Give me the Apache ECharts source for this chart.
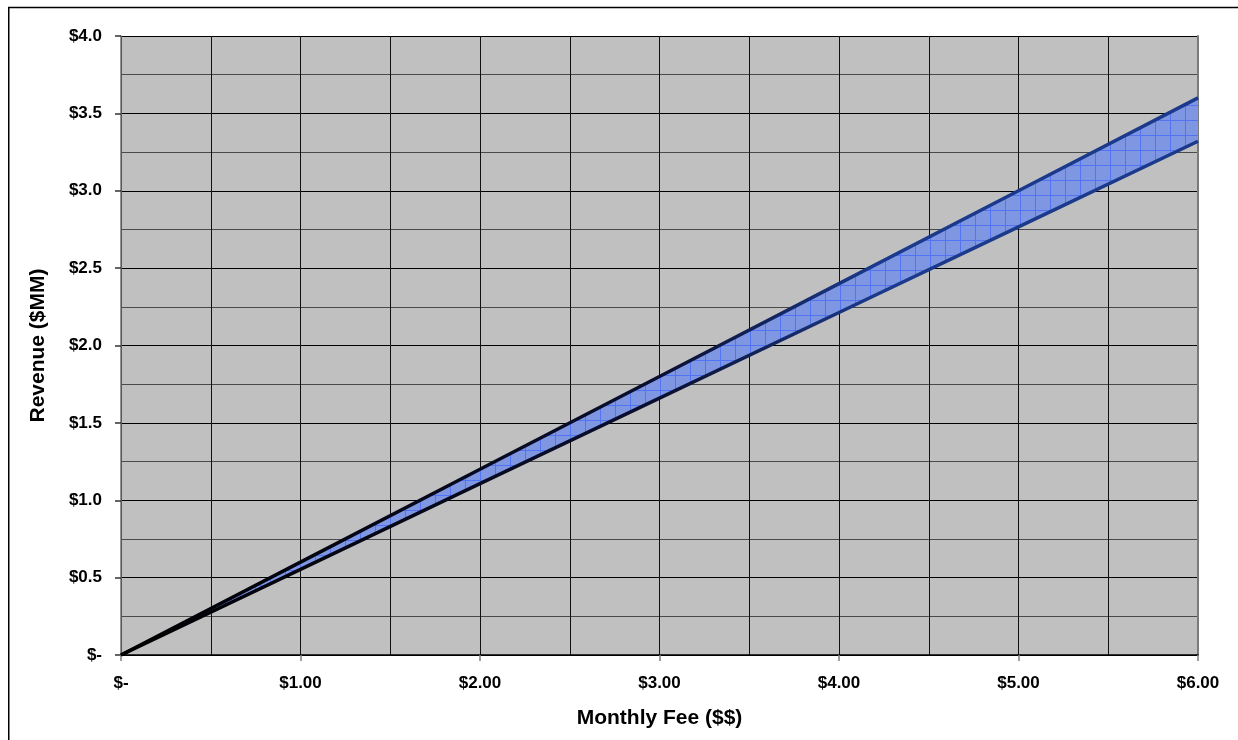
<!DOCTYPE html>
<html>
<head>
<meta charset="utf-8">
<title>Revenue vs Monthly Fee</title>
<script src="https://cdn.jsdelivr.net/npm/echarts@6/dist/echarts.min.js"></script>
<style>
  html, body { margin: 0; padding: 0; background: #ffffff; }
  #chart { width: 1238px; height: 740px; }
</style>
</head>
<body>
<div id="chart"></div>
<script>
// Monthly fee ($) and revenue range ($MM) at each fee level
const fees = [0, 1, 2, 3, 4, 5, 6];
const revenueLow = [0, 0.553, 1.107, 1.66, 2.213, 2.767, 3.32];
const revenueHigh = [0, 0.6, 1.2, 1.8, 2.4, 3.0, 3.6];

const xTitle = 'Monthly Fee ($$)';
const yTitle = 'Revenue ($MM)';

// Cross-hatched blue fill for the band between low and high
function hatchPattern() {
  const c = document.createElement('canvas');
  c.width = 15; c.height = 15;
  const g = c.getContext('2d');
  g.fillStyle = '#7f97e2';
  g.fillRect(0, 0, 15, 15);
  g.strokeStyle = '#5273f2';
  g.lineWidth = 1;
  g.beginPath();
  g.moveTo(0.5, 0); g.lineTo(0.5, 15);
  g.moveTo(0, 0.5); g.lineTo(15, 0.5);
  g.stroke();
  return c;
}
const hatch = hatchPattern();

const lowPts = fees.map((f, i) => [f, revenueLow[i]]);
const highPts = fees.map((f, i) => [f, revenueHigh[i]]);

// Band polygon: along the high edge, then back along the low edge
function renderBand(params, api) {
  if (params.dataIndex !== 0) return null;
  const pts = [];
  for (let i = 0; i < fees.length; i++) pts.push(api.coord([fees[i], revenueHigh[i]]));
  for (let i = fees.length - 1; i >= 0; i--) pts.push(api.coord([fees[i], revenueLow[i]]));
  return {
    type: 'polygon',
    shape: { points: pts },
    style: { fill: { image: hatch, repeat: 'repeat' }, stroke: 'none' }
  };
}

const edgeColor = {
  type: 'linear', x: 0, y: 0, x2: 1, y2: 0,
  colorStops: [
    { offset: 0, color: '#000000' },
    { offset: 0.5, color: '#0a0f30' },
    { offset: 0.7, color: '#1b3a8c' },
    { offset: 1, color: '#1b3a8c' }
  ]
};

const labelFont = { fontFamily: 'Liberation Sans, Arial, sans-serif', fontWeight: 'bold', color: '#000' };

const chart = echarts.init(document.getElementById('chart'), null, { renderer: 'canvas' });
chart.setOption({
  animation: false,
  backgroundColor: '#ffffff',
  graphic: [{
    type: 'rect',
    shape: { x: 8.75, y: 7.5, width: 1300, height: 800 },
    style: { fill: 'none', stroke: '#000', lineWidth: 1.5 },
    silent: true
  }],
  grid: {
    left: 121, right: 40, top: 36, bottom: 85,
    show: true, backgroundColor: '#c0c0c0', borderWidth: 0
  },
  xAxis: {
    type: 'value', min: 0, max: 6, interval: 1,
    name: xTitle, nameLocation: 'middle', nameGap: 53,
    nameTextStyle: Object.assign({ fontSize: 21 }, labelFont),
    axisLine: { show: true, lineStyle: { color: '#000', width: 1.5 } },
    axisTick: { show: true, length: 6, lineStyle: { color: '#808080', width: 1.5 } },
    axisLabel: Object.assign({
      fontSize: 17, margin: 20,
      formatter: v => v === 0 ? '$-' : '$' + v.toFixed(2)
    }, labelFont),
    splitLine: { show: true, lineStyle: { color: '#111', width: 1 } },
    minorTick: { show: false, splitNumber: 2 },
    minorSplitLine: { show: true, lineStyle: { color: '#111', width: 1 } }
  },
  yAxis: [{
    type: 'value', min: 0, max: 4, interval: 0.5,
    name: yTitle, nameLocation: 'middle', nameGap: 72, nameRotate: 90,
    nameTextStyle: Object.assign({ fontSize: 21 }, labelFont),
    axisLine: { show: true, lineStyle: { color: '#707070', width: 1.5 } },
    axisTick: { show: true, length: 6, lineStyle: { color: '#333', width: 1.5 } },
    axisLabel: Object.assign({
      fontSize: 17, margin: 19,
      formatter: v => v === 0 ? '$-' : '$' + v.toFixed(1)
    }, labelFont),
    splitLine: { show: true, lineStyle: { color: '#000', width: 1 } },
    minorTick: { show: false, splitNumber: 2 },
    minorSplitLine: { show: true, lineStyle: { color: '#4a4a4a', width: 1 } }
  }, {
    type: 'value', min: 0, max: 4, interval: 0.5, position: 'right',
    axisLine: { show: true, lineStyle: { color: '#7a7a7a', width: 2 } },
    axisTick: { show: false }, axisLabel: { show: false }, splitLine: { show: false }
  }],
  series: [
    {
      name: 'band', type: 'custom', renderItem: renderBand,
      data: fees.map((f, i) => [f, revenueHigh[i]]), z: 2, silent: true
    },
    {
      name: 'low', type: 'line', data: lowPts, symbol: 'none',
      lineStyle: { color: edgeColor, width: 3.5 }, z: 3
    },
    {
      name: 'high', type: 'line', data: highPts, symbol: 'none',
      lineStyle: { color: edgeColor, width: 3.5 }, z: 3
    }
  ]
});
</script>
</body>
</html>
